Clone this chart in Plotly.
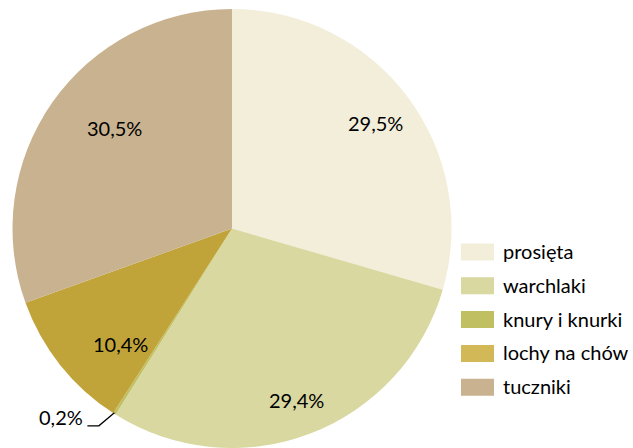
import math
import plotly.graph_objects as go

categories = ["prosięta", "warchlaki", "knury i knurki", "lochy na chów", "tuczniki"]
values = [29.5, 29.4, 0.2, 10.4, 30.5]
colors = ["#F3EEDA", "#D8D8A0", "#C0C062", "#C0A43A", "#C9B28F"]
legend_colors = ["#F3EEDA", "#D8D8A0", "#C0C062", "#D2B857", "#C9B28F"]

W, H = 633, 448
top = 9
r = (H - top) / 2
cx, cy = 232, top + r


def fx(x):
    return x / W


def fy(y):
    return 1 - y / H


fig = go.Figure(go.Pie(
    labels=categories,
    values=values,
    sort=False,
    direction="clockwise",
    rotation=0,
    marker=dict(colors=colors, line=dict(width=0)),
    textinfo="none",
    domain=dict(x=[fx(cx - r), fx(cx + r)], y=[0, fy(top)]),
    showlegend=False,
    hoverinfo="label+percent",
))

total = sum(values)
label_font = dict(family="Lato", size=20, color="#000000")
cum = 0.0
for i, v in enumerate(values):
    mid = (cum + v / 2) / total * 2 * math.pi
    cum += v
    txt = f"{v:.1f}%".replace(".", ",")
    if v >= 1:
        lx = cx + 0.82 * r * math.sin(mid)
        ly = cy + 3 - 0.82 * r * math.cos(mid)
        fig.add_annotation(x=fx(lx), y=fy(ly), xref="paper", yref="paper", text=txt,
                           showarrow=False, font=label_font, yanchor="middle")
    else:
        px = cx + r * math.sin(mid)
        py = cy - r * math.cos(mid)
        fig.add_shape(
            type="path", xref="paper", yref="paper",
            path=(f"M {fx(px - 27):.5f},{fy(py + 12):.5f} L {fx(px - 15.5):.5f},{fy(py + 12):.5f} "
                  f"L {fx(px):.5f},{fy(py - 1):.5f}"),
            line=dict(color="#000000", width=1.3),
        )
        fig.add_annotation(x=fx(px - 29), y=fy(py + 3.5), xref="paper", yref="paper", text=txt,
                           showarrow=False, xanchor="right", yanchor="middle", font=label_font)

# legend (swatch + text per category)
for i, (name, col) in enumerate(zip(categories, legend_colors)):
    yc = 252 + i * 33.8
    fig.add_shape(type="rect", xref="paper", yref="paper",
                  x0=fx(461), x1=fx(494), y0=fy(yc + 8.5), y1=fy(yc - 8.5),
                  fillcolor=col, line=dict(width=0))
    fig.add_annotation(x=fx(501), y=fy(yc - 1), xref="paper", yref="paper", text=name,
                       showarrow=False, xanchor="left", yanchor="middle",
                       font=dict(family="Lato", size=20, color="#000000"))

fig.update_layout(
    width=W, height=H,
    margin=dict(l=0, r=0, t=0, b=0),
    paper_bgcolor="white",
    showlegend=False,
)

fig.write_html("out.html", config={"displayModeBar": False},
               post_script="document.body.style.margin='0px';document.body.style.overflow='hidden';")
